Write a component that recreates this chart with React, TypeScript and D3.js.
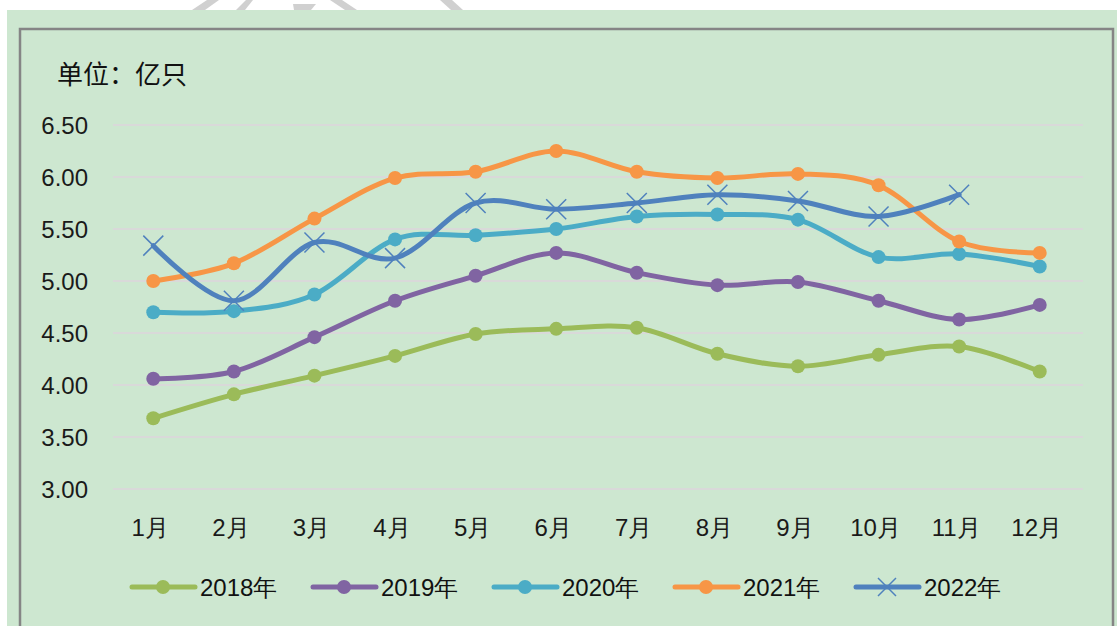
import React from 'react';
import * as d3 from 'd3';

const W = 1117;
const H = 626;

const months = ['1月', '2月', '3月', '4月', '5月', '6月', '7月', '8月', '9月', '10月', '11月', '12月'];
const yTicks = [3.0, 3.5, 4.0, 4.5, 5.0, 5.5, 6.0, 6.5];

const v2018 = [3.68, 3.91, 4.09, 4.28, 4.49, 4.54, 4.55, 4.30, 4.18, 4.29, 4.37, 4.13];
const v2019 = [4.06, 4.13, 4.46, 4.81, 5.05, 5.27, 5.08, 4.96, 4.99, 4.81, 4.63, 4.77];
const v2020 = [4.70, 4.71, 4.87, 5.40, 5.44, 5.50, 5.62, 5.64, 5.59, 5.23, 5.26, 5.14];
const v2021 = [5.00, 5.17, 5.60, 5.99, 6.05, 6.25, 6.05, 5.99, 6.03, 5.92, 5.38, 5.27];
const v2022 = [5.34, 4.81, 5.37, 5.22, 5.75, 5.69, 5.75, 5.83, 5.77, 5.62, 5.83];

const seriesNames = ['2018年', '2019年', '2020年', '2021年', '2022年'];
const seriesColors = ['#9bbb59', '#8064a2', '#4bacc6', '#f79646', '#4f81bd'];
const seriesValues = [v2018, v2019, v2020, v2021, v2022];

const NUM_FONT = "'Liberation Sans Narrow', 'Liberation Sans', Arial, sans-serif";
const CJK_FONT = "'Noto Sans CJK SC', 'Liberation Sans', sans-serif";

// decorative watermark fragments peeking above the chart
const watermark = [
  [[207, 0], [219, 0], [205, 10], [192, 10]],
  [[246, 0], [253, 0], [245, 10], [236, 10]],
  [[293, 4], [316, 4], [311, 10], [294, 10]],
  [[330, 0], [342, 0], [357, 10], [345, 10]],
  [[440, 0], [452, 0], [463, 10], [451, 10]],
];

export default function App() {
  const x = d3.scaleBand<string>().domain(months).range([113, 1080]);
  const y = d3.scaleLinear().domain([3, 6.5]).range([489, 125]);
  const cx = (i: number) => (x(months[i]) as number) + x.bandwidth() / 2;

  const line = d3.line<number>()
    .x((_, i) => cx(i))
    .y(d => y(d))
    .curve(d3.curveCatmullRom.alpha(0));

  const legendX = d3.scaleLinear().domain([0, 1]).range([132, 313]);

  return (
    <div style={{ position: 'absolute', left: 0, top: 0 }}>
      <svg width={W} height={H} style={{ display: 'block' }}>
        <rect x={0} y={0} width={W} height={H} fill="#ffffff" />
        {watermark.map((p, i) => (
          <polygon key={i} points={p.map(q => q.join(',')).join(' ')} fill="#d0d0d0" />
        ))}
        <rect x={7} y={10} width={W - 7} height={H - 10} fill="#cde7d0" />
        <rect x={20} y={29} width={1093} height={700} fill="none" stroke="#858585" strokeWidth={2.5} />

        <text x={57} y={72} dominantBaseline="central" fontFamily={CJK_FONT} fontSize={26} fill="#111">单位：亿只</text>

        {yTicks.map(t => (
          <g key={t}>
            <line x1={113} x2={1083} y1={y(t)} y2={y(t)} stroke="#d9d9d9" strokeWidth={2} />
            <text x={88} y={y(t)} textAnchor="end" dominantBaseline="central"
              fontFamily={NUM_FONT} fontSize={24} fill="#1a1a1a">{d3.format('.2f')(t)}</text>
          </g>
        ))}

        {months.map((m, i) => (
          <text key={m} x={cx(i) - 3} y={527} textAnchor="middle" dominantBaseline="central"
            fontFamily={NUM_FONT} fontSize={24} fill="#1a1a1a">{m}</text>
        ))}

        {seriesValues.map((vals, s) => (
          <g key={s}>
            <path d={line(vals) || ''} fill="none" stroke={seriesColors[s]} strokeWidth={5}
              strokeLinejoin="round" strokeLinecap="round" />
            {vals.map((v, i) => s < 4 ? (
              <circle key={i} cx={cx(i)} cy={y(v)} r={7} fill={seriesColors[s]} />
            ) : (
              <path key={i} d={`M${cx(i) - 10},${y(v) - 10}L${cx(i) + 10},${y(v) + 10}M${cx(i) - 10},${y(v) + 10}L${cx(i) + 10},${y(v) - 10}`}
                stroke={seriesColors[s]} strokeWidth={1.5} fill="none" />
            ))}
          </g>
        ))}

        {seriesNames.map((n, s) => {
          const lx = legendX(s);
          const ly = 587;
          return (
            <g key={n}>
              <line x1={lx} x2={lx + 63} y1={ly} y2={ly} stroke={seriesColors[s]} strokeWidth={5} strokeLinecap="round" />
              {s < 4 ? (
                <circle cx={lx + 31} cy={ly} r={7} fill={seriesColors[s]} />
              ) : (
                <path d={`M${lx + 22},${ly - 9}L${lx + 40},${ly + 9}M${lx + 22},${ly + 9}L${lx + 40},${ly - 9}`}
                  stroke={seriesColors[s]} strokeWidth={1.5} fill="none" />
              )}
              <text x={lx + 68} y={ly} dominantBaseline="central" fontFamily={NUM_FONT} fontSize={24} fill="#111">{n}</text>
            </g>
          );
        })}
      </svg>
    </div>
  );
}
